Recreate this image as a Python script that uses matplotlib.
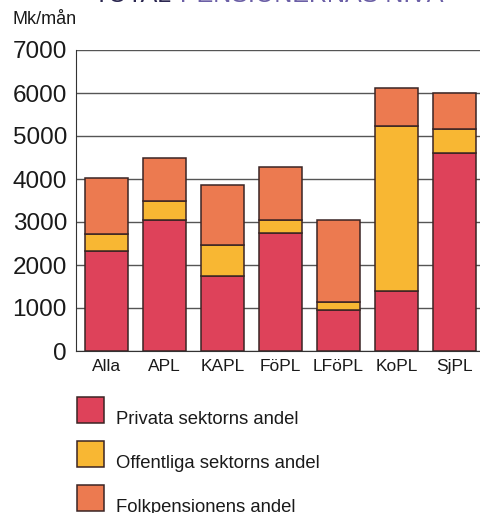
import matplotlib.pyplot as plt
import numpy as np
from matplotlib.patches import Rectangle

plt.rcParams['font.family'] = ['Liberation Sans', 'DejaVu Sans']

# Mk/mån per pensionssystem
categories = ["Alla", "APL", "KAPL", "FöPL", "LFöPL", "KoPL", "SjPL"]
privata = [2320, 3050, 1750, 2740, 950, 1400, 4600]
offentliga = [410, 430, 720, 310, 180, 3840, 560]
folkpension = [1290, 1020, 1380, 1220, 1910, 880, 840]

series_labels = ["Privata sektorns andel", "Offentliga sektorns andel", "Folkpensionens andel"]
colors = ["#DE425A", "#F8B733", "#EC7A50"]
edge = "#3a2424"

W, H = 480, 513
fig = plt.figure(figsize=(W / 100, H / 100), dpi=100)
ax = fig.add_axes([76 / W, (H - 351) / H, 1 - 76 / W, 301 / H])

x = np.arange(len(categories))
bottom = np.zeros(len(categories))
for vals, col in zip([privata, offentliga, folkpension], colors):
    ax.bar(x, vals, width=0.74, bottom=bottom, color=col, edgecolor=edge,
           linewidth=1.1, zorder=3)
    bottom += np.array(vals)

ax.set_xlim(-0.526, 6.44)
ax.set_ylim(0, 7000)
ax.set_yticks(range(0, 7001, 1000))
ax.set_xticks(x)
ax.set_xticklabels(categories, fontsize=12.5)
ax.tick_params(axis='y', length=0, pad=6.5, labelsize=17.5, labelcolor="#1a1a1a")
ax.tick_params(axis='x', length=0, pad=6, labelcolor="#1a1a1a")
ax.grid(axis='y', color="#555555", linewidth=1.0, zorder=0)
for s in ["top", "right"]:
    ax.spines[s].set_visible(False)
ax.spines["left"].set_color("#333333")
ax.spines["bottom"].set_color("#333333")
ax.set_axisbelow(True)

fig.text(13 / W, 1 - 20 / H, "Mk/mån", fontsize=13, va="center", ha="left", color="#1a1a1a")

# rubriken är avskuren i originalet, bara underkanten syns
fig.text(93 / W, 1 - 1.5 / H, "TOTAL", fontsize=18, va="baseline", ha="left", color="#2b2750")
fig.text(180 / W, 1 - 1.5 / H, "PENSIONERNAS NIVÅ", fontsize=18, va="baseline", ha="left",
         color="#6b5fa6")

# legend
for i, (lab, col) in enumerate(zip(series_labels, colors)):
    top = 397 + i * 43.8
    fig.add_artist(Rectangle((77 / W, 1 - (top + 26) / H), 27 / W, 26 / H,
                             facecolor=col, edgecolor=edge, linewidth=1.1,
                             transform=fig.transFigure))
    fig.text(116 / W, 1 - (top + 27) / H, lab, fontsize=13.3, va="baseline", ha="left",
             color="#1a1a1a")

fig.savefig("out.png", dpi=100)
